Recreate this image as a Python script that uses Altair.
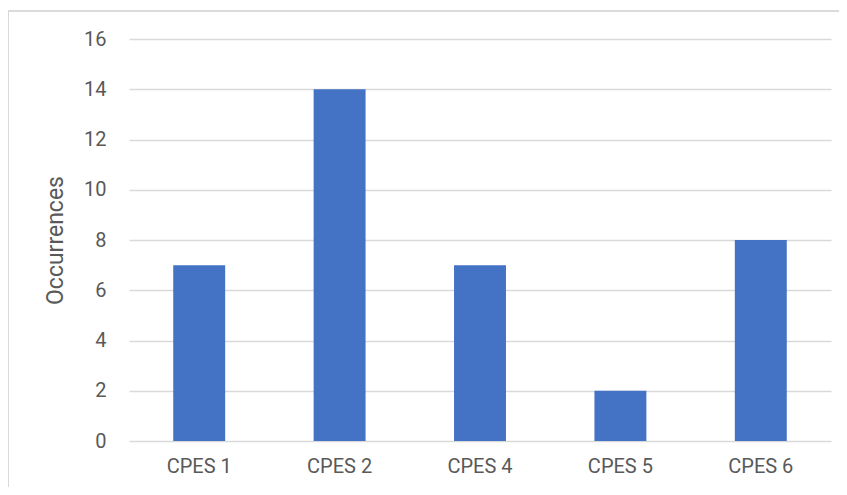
import altair as alt
import pandas as pd

categories = ["CPES 1", "CPES 2", "CPES 4", "CPES 5", "CPES 6"]
occurrences = [7, 14, 7, 2, 8]

df = pd.DataFrame({"category": categories, "value": occurrences})

FONT = "Roboto"
TXT = "#595959"

bars = alt.Chart(df).mark_bar(color="#4472C4").encode(
    x=alt.X("category:N", sort=categories, title=None,
            scale=alt.Scale(paddingInner=0.63, paddingOuter=0.315),
            axis=alt.Axis(labelAngle=0, labelFont=FONT, labelFontSize=20, labelColor=TXT,
                          labelPadding=15, ticks=False, domain=False, grid=False)),
    y=alt.Y("value:Q", title="Occurrences",
            scale=alt.Scale(domain=[0, 16], nice=False),
            axis=alt.Axis(values=list(range(0, 17, 2)), labelFont=FONT, labelFontSize=20,
                          labelColor=TXT, labelPadding=23, ticks=False, domain=False,
                          grid=True, gridColor="#d9d9d9", gridWidth=1.3,
                          titleFont=FONT, titleFontSize=23, titleFontWeight="normal",
                          titleColor=TXT, titlePadding=16)),
)

frame_top = alt.Chart(df).mark_rule(stroke="#d9d9d9", strokeWidth=1.2, clip=False).encode(
    x=alt.value(-121), x2=alt.value(760), y=alt.value(-28)
)
frame_left = alt.Chart(df).mark_rule(stroke="#d9d9d9", strokeWidth=1.2, clip=False).encode(
    x=alt.value(-121), y=alt.value(-28), y2=alt.value(480)
)

chart = alt.layer(frame_top, frame_left, bars).properties(
    width=702, height=402,
    autosize=alt.AutoSizeParams(type="none"),
    padding={"left": 121, "top": 31, "right": 8, "bottom": 46},
    view=alt.ViewBackground(strokeOpacity=0, strokeWidth=0),
).configure_view(strokeOpacity=0, strokeWidth=0).configure_axisX(
    grid=False, domain=False, ticks=False
).configure(background="white")

chart.save("out.html", embed_options={"renderer": "svg", "actions": False})
